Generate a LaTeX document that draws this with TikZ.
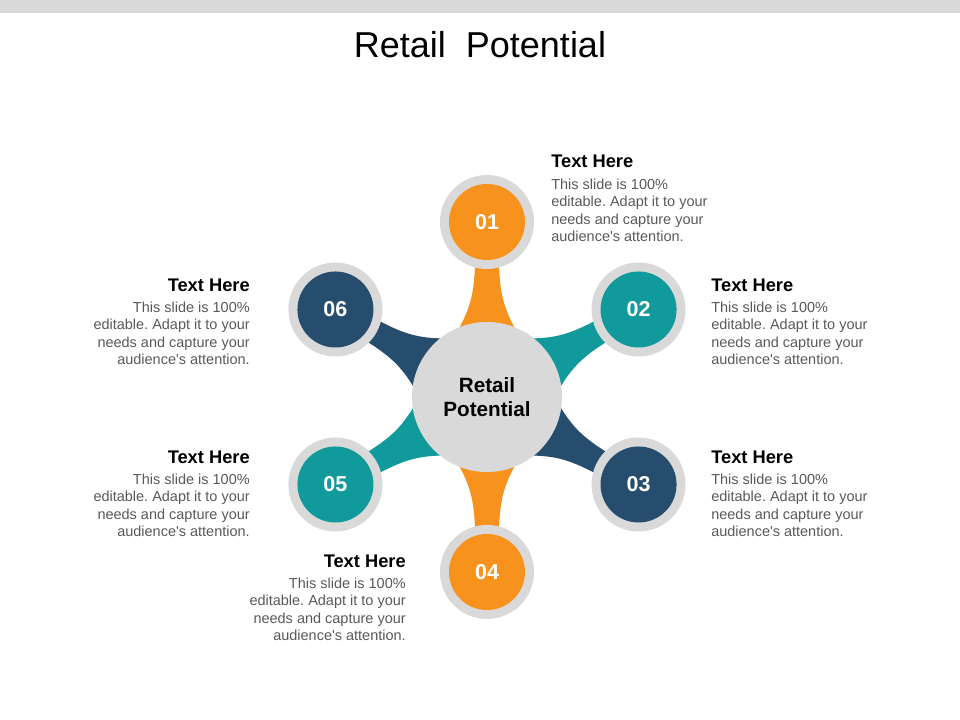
\documentclass[tikz,border=0pt]{standalone}
\usepackage{fontspec}
\setmainfont{Liberation Sans}
\frenchspacing
\definecolor{cOrange}{HTML}{F7921D}
\definecolor{cTeal}{HTML}{119A9B}
\definecolor{cNavy}{HTML}{264C6E}
\definecolor{cGray}{HTML}{D9D9D9}
\definecolor{cBody}{HTML}{595959}
\newcommand{\bodytext}{This slide is 100\%\\editable. Adapt it to your\\needs and capture your\\audience\textquotesingle s attention.}

\begin{document}
\begin{tikzpicture}[x=0.025cm, y=0.025cm,
    ring/.style={circle, fill=cGray, minimum size=2.35cm, inner sep=0pt},
    dot/.style={circle, minimum size=1.9cm, inner sep=0pt, text=white,
      font=\bfseries\fontsize{15.3}{18}\selectfont},
    head/.style={inner sep=0pt, font=\bfseries\fontsize{13}{15}\selectfont},
    body/.style={inner sep=0pt, text=cBody, font=\fontsize{10.3}{12.2}\selectfont}]
    \useasboundingbox (0,0) rectangle (960,720);
    \fill[cGray] (0,707) rectangle (960,720);
    \node[anchor=base, font=\fontsize{25.6}{30}\selectfont] (title) at (480,662) {Retail\ \ Potential};

    \coordinate (cp) at (487,323);
    \foreach \ang/\col in {90/cOrange, 30/cTeal, -30/cNavy, -90/cOrange, 210/cTeal, 150/cNavy}
        \fill[\col, shift={(cp)}, rotate=\ang] (60,-33) .. controls (85,-18) and (100,-13) .. (132,-12)
            -- (132,12) .. controls (100,13) and (85,18) .. (60,33) -- cycle;
    \node[circle, fill=cGray, minimum size=3.75cm, inner sep=0pt, align=center,
        font=\bfseries\fontsize{14.7}{17}\selectfont] (hub) at (cp) {Retail\\Potential};
    \foreach \ang/\col/\num in {90/cOrange/01, 30/cTeal/02, -30/cNavy/03, -90/cOrange/04, 210/cTeal/05, 150/cNavy/06} {
        \node[ring] (r\num) at ([shift={(\ang:175)}]cp) {};
        \node[dot, fill=\col] (d\num) at (r\num) {\num};
    }

    \node[head, anchor=north west] (h1) at (551,565) {Text Here};
    \node[body, anchor=north west, align=left] (b1) at (551,541) {\bodytext};
    \node[head, anchor=north west] (h2) at (711,441) {Text Here};
    \node[body, anchor=north west, align=left] (b2) at (711,418) {\bodytext};
    \node[head, anchor=north west] (h3) at (711,269) {Text Here};
    \node[body, anchor=north west, align=left] (b3) at (711,246) {\bodytext};
    \node[head, anchor=north east] (h4) at (406,165) {Text Here};
    \node[body, anchor=north east, align=right] (b4) at (406,142) {\bodytext};
    \node[head, anchor=north east] (h5) at (250,269) {Text Here};
    \node[body, anchor=north east, align=right] (b5) at (250,246) {\bodytext};
    \node[head, anchor=north east] (h6) at (250,441) {Text Here};
    \node[body, anchor=north east, align=right] (b6) at (250,418) {\bodytext};
\end{tikzpicture}
\end{document}
